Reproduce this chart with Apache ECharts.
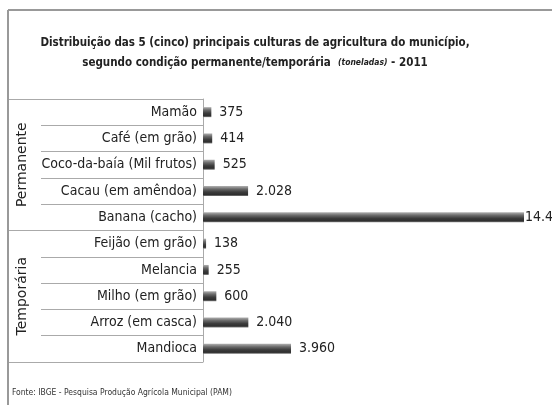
<!DOCTYPE html>
<html>
<head>
<meta charset="utf-8">
<script src="https://cdn.jsdelivr.net/npm/echarts@6/dist/echarts.min.js"></script>
<style>
  html, body { margin: 0; padding: 0; background: #fff; }
  #chart { width: 552px; height: 405px; }
</style>
</head>
<body>
<div id="chart"></div>
<script>
var categories = ['Mamão', 'Café (em grão)', 'Coco-da-baía (Mil frutos)', 'Cacau (em amêndoa)', 'Banana (cacho)',
  'Feijão (em grão)', 'Melancia', 'Milho (em grão)', 'Arroz (em casca)', 'Mandioca']
var values = [375, 414, 525, 2028, 14443, 138, 255, 600, 2040, 3960]
var groups = ['Permanente', 'Temporária']
var groupSize = 5

var font = "'DejaVu Sans Condensed', 'Lato', sans-serif"

function fmt(v) {
  return String(v).replace(/\B(?=(\d{3})+(?!\d))/g, '.')
}

var chart = echarts.init(document.getElementById('chart'))
chart.setOption({
  backgroundColor: '#fff',
  animation: false,
  title: [{
    text: 'Distribuição das 5 (cinco) principais culturas de agricultura do município,\nsegundo condição permanente/temporária  {i|(toneladas)} - 2011',
    left: 255,
    top: 33,
    padding: 0,
    textAlign: 'center',
    textStyle: {
      fontFamily: font,
      fontSize: 11.5,
      fontWeight: 'bold',
      color: '#222',
      lineHeight: 20,
      rich: {
        i: { fontFamily: font, fontSize: 8.5, fontStyle: 'italic', fontWeight: 'bold', color: '#222' }
      }
    }
  }, {
    text: 'Fonte: IBGE - Pesquisa Produção Agrícola Municipal (PAM)',
    left: 12,
    top: 388,
    padding: 0,
    textStyle: { fontFamily: font, fontSize: 8.5, fontWeight: 'normal', color: '#333' }
  }],
  graphic: [
    { type: 'line', shape: { x1: 8, y1: 10, x2: 552, y2: 10 }, style: { stroke: '#999', lineWidth: 2 } },
    { type: 'line', shape: { x1: 8, y1: 10, x2: 8, y2: 405 }, style: { stroke: '#999', lineWidth: 2 } }
  ],
  grid: {
    left: 203,
    right: 28,
    top: 99,
    height: 263
  },
  xAxis: {
    type: 'value',
    min: 0,
    max: 'dataMax',
    show: false
  },
  yAxis: [{
    type: 'category',
    inverse: true,
    data: categories,
    axisLine: { lineStyle: { color: '#aaa', width: 1 } },
    axisTick: { show: true, length: 162, lineStyle: { color: '#aaa' } },
    axisLabel: { margin: 6, fontFamily: font, fontSize: 14, color: '#222' }
  }, {
    type: 'category',
    inverse: true,
    data: categories,
    position: 'left',
    axisLine: { show: false },
    axisTick: {
      show: true,
      length: 194,
      interval: function(i) { return i % groupSize === 0 },
      lineStyle: { color: '#aaa' }
    },
    axisLabel: {
      show: true,
      interval: function(i) { return i % groupSize === 2 },
      formatter: function(v, i) { return groups[Math.floor(i / groupSize)] },
      rotate: 90,
      margin: 174,
      fontFamily: "'DejaVu Sans', sans-serif",
      fontSize: 14,
      color: '#222'
    }
  }],
  series: [{
    type: 'bar',
    data: values.map(function(v) {
      // the longest bar's label sits right at the bar end, like the original
      return v === Math.max.apply(null, values) ? { value: v, label: { distance: 1 } } : v
    }),
    barWidth: 10,
    itemStyle: {
      color: new echarts.graphic.LinearGradient(0, 0, 0, 1, [
        { offset: 0, color: '#b0b0b0' },
        { offset: 0.3, color: '#6a6a6a' },
        { offset: 0.6, color: '#3c3c3c' },
        { offset: 0.85, color: '#2e2e2e' },
        { offset: 1, color: '#808080' }
      ])
    },
    label: {
      show: true,
      position: 'right',
      distance: 8,
      fontFamily: font,
      fontSize: 14,
      color: '#222',
      formatter: function(p) { return fmt(p.value) }
    }
  }]
})
</script>
</body>
</html>
